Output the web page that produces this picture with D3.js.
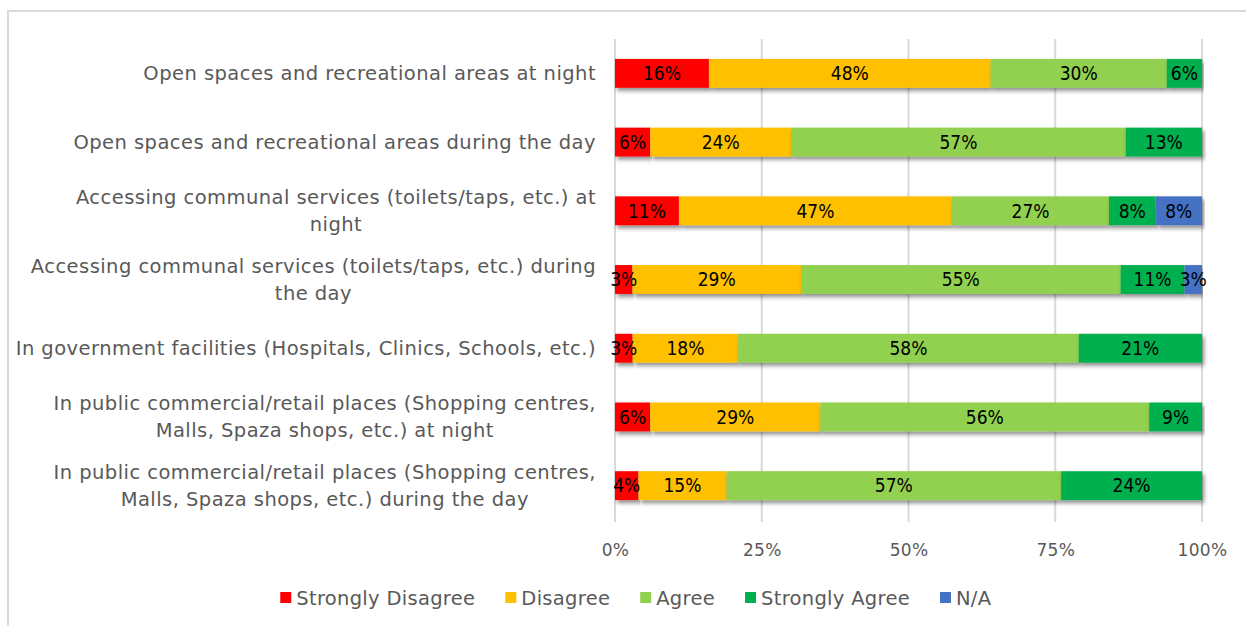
<!DOCTYPE html>
<html>
<head>
<meta charset="utf-8">
<script src="https://cdn.jsdelivr.net/npm/d3@7"></script>
<style>
  html, body { margin: 0; padding: 0; background: #fff; }
  svg { display: block; }
</style>
</head>
<body>
<svg id="chart" width="1246" height="626"></svg>
<script>
// Survey statements (line breaks mark the wrapped label lines)
const categories = [
  "Open spaces and recreational areas at night",
  "Open spaces and recreational areas during the day",
  "Accessing communal services (toilets/taps, etc.) at\nnight",
  "Accessing communal services (toilets/taps, etc.) during\nthe day",
  "In government facilities (Hospitals, Clinics, Schools, etc.)",
  "In public commercial/retail places (Shopping centres,\nMalls, Spaza shops, etc.) at night",
  "In public commercial/retail places (Shopping centres,\nMalls, Spaza shops, etc.) during the day"
];

const seriesNames = ["Strongly Disagree", "Disagree", "Agree", "Strongly Agree", "N/A"];
const seriesColors = ["#FF0000", "#FFC000", "#92D050", "#00B050", "#4472C4"];

// Percentages per statement, in category order
const stronglyDisagree = [16, 6, 11, 3, 3, 6, 4];
const disagree         = [48, 24, 47, 29, 18, 29, 15];
const agree            = [30, 57, 27, 55, 58, 56, 57];
const stronglyAgree    = [6, 13, 8, 11, 21, 9, 24];
const notApplicable    = [0, 0, 8, 3, 0, 0, 0];

const tickValues = [0, 0.25, 0.5, 0.75, 1];

const rows = categories.map((c, i) => ({
  category: c,
  "Strongly Disagree": stronglyDisagree[i],
  "Disagree": disagree[i],
  "Agree": agree[i],
  "Strongly Agree": stronglyAgree[i],
  "N/A": notApplicable[i]
}));

const svg = d3.select("#chart");
const W = 1246, H = 626;
const margin = { left: 615, right: 44, top: 39, bottom: 106 };
const textColor = "#595959";
const font = "'DejaVu Sans', sans-serif";

// Outer frame (open on the right and bottom)
svg.append("path")
  .attr("d", `M8,${H + 2} V11 H${W + 2}`)
  .attr("fill", "none")
  .attr("stroke", "#d9d9d9")
  .attr("stroke-width", 2);

const x = d3.scaleLinear().domain([0, 1]).range([margin.left, W - margin.right]);
const y = d3.scaleBand().domain(categories)
  .range([margin.top, H - margin.bottom])
  .paddingInner(0.58).paddingOuter(0.29);

// Shadow under the bars
const defs = svg.append("defs");
const f = defs.append("filter").attr("id", "shadow")
  .attr("x", "-5%").attr("y", "-30%").attr("width", "110%").attr("height", "180%");
f.append("feDropShadow")
  .attr("dx", 2).attr("dy", 3).attr("stdDeviation", 2)
  .attr("flood-color", "#000").attr("flood-opacity", 0.45);

// Vertical gridlines
svg.append("g")
  .selectAll("line")
  .data(tickValues)
  .join("line")
  .attr("x1", d => x(d)).attr("x2", d => x(d))
  .attr("y1", margin.top).attr("y2", H - margin.bottom + 2)
  .attr("stroke", "#d9d9d9").attr("stroke-width", 2);

// Percent axis
const xAxis = d3.axisBottom(x)
  .tickValues(tickValues)
  .tickFormat(d3.format(".0%"))
  .tickSize(0).tickPadding(0);
const gx = svg.append("g")
  .attr("transform", `translate(0,${H - margin.bottom})`)
  .call(xAxis);
gx.select(".domain").remove();
gx.selectAll("text")
  .attr("y", 36)
  .attr("dy", 0)
  .attr("font-family", font)
  .attr("font-size", 17)
  .attr("letter-spacing", 0.3)
  .attr("fill", textColor);

// Stacked bars, normalised to the full row
const stack = d3.stack().keys(seriesNames).offset(d3.stackOffsetExpand);
const stacked = stack(rows);
const color = d3.scaleOrdinal().domain(seriesNames).range(seriesColors);

const barsG = svg.append("g");
const layers = barsG.selectAll("g.layer")
  .data(stacked)
  .join("g")
  .attr("class", "layer")
  .attr("fill", d => color(d.key));

layers.selectAll("rect")
  .data(d => d.map(p => ({ p, key: d.key })).filter(o => o.p.data[o.key] > 0))
  .join("rect")
  .attr("filter", "url(#shadow)")
  .attr("x", o => x(o.p[0]))
  .attr("y", o => y(o.p.data.category))
  .attr("width", o => x(o.p[1]) - x(o.p[0]))
  .attr("height", y.bandwidth());

// Value labels, drawn above all bars
const labelsG = svg.append("g");
stacked.forEach(layer => {
  layer.forEach(p => {
    const v = p.data[layer.key];
    if (v <= 0) return;
    labelsG.append("text")
      .attr("x", (x(p[0]) + x(p[1])) / 2)
      .attr("y", y(p.data.category) + y.bandwidth() / 2)
      .attr("dy", "0.36em")
      .attr("text-anchor", "middle")
      .attr("font-family", "'DejaVu Sans Condensed', 'DejaVu Sans', sans-serif")
      .attr("font-size", 19)
      .attr("fill", "#000")
      .text(v + "%");
  });
});

// Category labels: wrapped lines centred within their block, block right-aligned
const labelRight = 596;
const lineH = 27;
const catG = svg.append("g");
categories.forEach(c => {
  const lines = c.split("\n");
  const g = catG.append("g");
  const texts = lines.map(l => g.append("text")
    .attr("font-family", font)
    .attr("font-size", 19.5)
    .attr("letter-spacing", 0.45)
    .attr("fill", textColor)
    .text(l));
  const widths = texts.map(t => t.node().getBBox().width);
  const blockW = d3.max(widths);
  const cy = y(c) + y.bandwidth() / 2;
  const top = cy - (lines.length - 1) * lineH / 2;
  texts.forEach((t, i) => {
    t.attr("x", labelRight - blockW / 2)
     .attr("text-anchor", "middle")
     .attr("y", top + i * lineH)
     .attr("dy", "0.36em");
  });
});

// Legend
const legendY = 598;
const legendCenter = 636;
const legend = svg.append("g");
let lx = 0;
seriesNames.forEach((name, i) => {
  const g = legend.append("g");
  g.append("rect").attr("x", 0).attr("y", -6).attr("width", 11).attr("height", 11)
    .attr("fill", seriesColors[i]);
  const t = g.append("text").attr("x", 16).attr("dy", "0.36em")
    .attr("font-family", font).attr("font-size", 19.5)
    .attr("letter-spacing", 0.3).attr("fill", textColor)
    .text(name);
  const w = 16 + t.node().getBBox().width;
  g.attr("transform", `translate(${lx},${legendY})`);
  lx += w + 30;
});
const totalW = lx - 30;
legend.attr("transform", `translate(${legendCenter - totalW / 2},0)`);
</script>
</body>
</html>
